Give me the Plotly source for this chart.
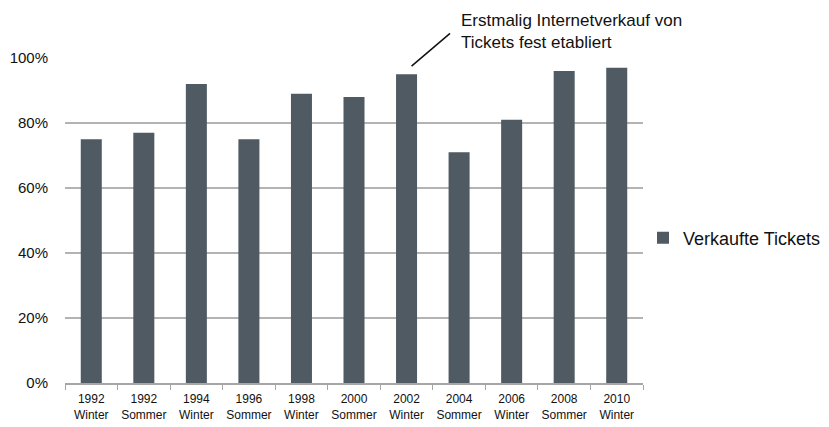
import plotly.graph_objects as go

categories = ["1992<br>Winter", "1992<br>Sommer", "1994<br>Winter", "1996<br>Sommer",
              "1998<br>Winter", "2000<br>Sommer", "2002<br>Winter", "2004<br>Sommer",
              "2006<br>Winter", "2008<br>Sommer", "2010<br>Winter"]
values = [75, 77, 92, 75, 89, 88, 95, 71, 81, 96, 97]
series_name = "Verkaufte Tickets"
y_ticks = [0, 20, 40, 60, 80, 100]
y_tick_labels = ["0%", "20%", "40%", "60%", "80%", "100%"]
annotation_text = "Erstmalig Internetverkauf von<br>Tickets fest etabliert"
annotation_category = "2002<br>Winter"
annotation_value = 97.5

FONT = "Liberation Sans, Arial, sans-serif"

fig = go.Figure()
fig.add_trace(go.Bar(
    x=categories, y=values, name=series_name,
    marker=dict(color="#4f5a62", line=dict(width=0)),
    width=0.4, showlegend=True,
))

fig.add_annotation(
    x=annotation_category, y=annotation_value, xref="x", yref="y",
    text="", showarrow=True, arrowhead=0, arrowwidth=1.5, arrowcolor="#111",
    ax=40, ay=-34, xshift=5,
)
fig.add_annotation(
    x=0.682, y=1.151, xref="paper", yref="paper", xanchor="left", yanchor="top",
    text=annotation_text, showarrow=False, align="left",
    font=dict(family=FONT, size=17, color="#111"),
)

fig.update_layout(
    width=829, height=427,
    margin=dict(l=57, r=194, t=50, b=52, autoexpand=False),
    paper_bgcolor="white", plot_bgcolor="white",
    font=dict(family=FONT, color="#111"),
    legend=dict(x=1.0, y=0.446, xanchor="left", yanchor="middle",
                font=dict(family=FONT, size=18, color="#111"),
                itemwidth=30),
    xaxis=dict(
        showline=True, linecolor="#a6a6a6", linewidth=1.5,
        ticks="outside", tickson="boundaries", ticklen=5, tickcolor="#a6a6a6",
        tickfont=dict(family=FONT, size=12, color="#111"),
        tickangle=0, showgrid=False, automargin=False,
        ticklabelstandoff=4,
    ),
    yaxis=dict(
        range=[0, 100], tickvals=y_ticks, ticktext=y_tick_labels,
        showgrid=True, gridcolor="#b3b3b3", gridwidth=2,
        zeroline=False, showline=False, automargin=False,
        tickfont=dict(family=FONT, size=15, color="#111"),
        ticklabelstandoff=16,
    ),
)

fig.write_html("out.html")
